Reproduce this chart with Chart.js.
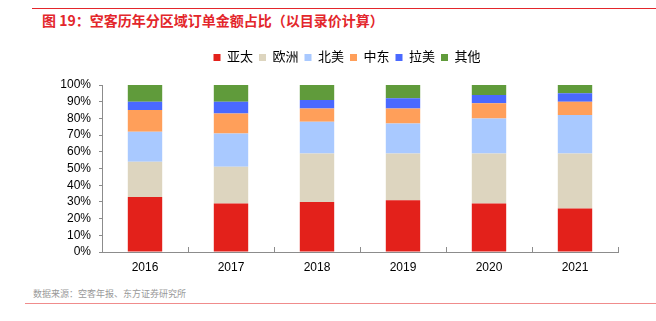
<!DOCTYPE html>
<html>
<head>
<meta charset="utf-8">
<script src="https://cdn.jsdelivr.net/npm/chart.js@4"></script>
<style>
  body { margin: 0; background: #fff; }
  #page { position: relative; width: 656px; height: 321px; overflow: hidden; font-family: "Liberation Sans", "Noto Sans CJK SC", sans-serif; }
  #topLine { position: absolute; left: 32px; top: 8px; width: 624px; height: 1px; background: #e3262b; }
  #title { position: absolute; left: 42px; top: 12px; font-size: 14px; line-height: 16px; font-weight: bold; color: #e3262b; font-family: "Noto Sans CJK SC", sans-serif; }
  #source { position: absolute; left: 33px; top: 288px; font-size: 9px; line-height: 12px; color: #999; font-family: "Noto Sans CJK SC", sans-serif; }
  #bottomLine { position: absolute; left: 25px; top: 303px; width: 631px; height: 1px; background: #f08c8c; }
  #chart { position: absolute; left: 0; top: 40px; }
</style>
</head>
<body>
<div id="page">
  <div id="topLine"></div>
  <div id="title">图 19：空客历年分区域订单金额占比（以目录价计算）</div>
  <canvas id="chart" width="656" height="240"></canvas>
  <div id="source">数据来源：空客年报、东方证券研究所</div>
  <div id="bottomLine"></div>
</div>
<script>
// order share by region, % of list price value
const years = ['2016', '2017', '2018', '2019', '2020', '2021'];
const asiaPacific = [33, 29, 30, 31, 29, 26];
const europe = [21, 22, 29, 28, 30, 33];
const northAmerica = [18, 20, 19, 18, 21, 23];
const middleEast = [13, 12, 8, 9, 9, 8];
const latinAmerica = [5, 7, 5, 6, 5, 5];
const others = [10, 10, 9, 8, 6, 5];

const regionNames = ['亚太', '欧洲', '北美', '中东', '拉美', '其他'];
const yMax = 100;
const yStep = 10;

const seriesList = [asiaPacific, europe, northAmerica, middleEast, latinAmerica, others];
const colors = ['#e3211b', '#ddd5bf', '#a9c9ff', '#ff9f5a', '#4a69ff', '#609b3b'];

const FONT = '"Liberation Sans", "Noto Sans CJK SC", sans-serif';
const AXIS_GREY = '#8c8c8c';

const datasets = seriesList.map((values, i) => ({
    label: regionNames[i],
    data: values,
    backgroundColor: colors[i],
    borderWidth: 0,
    barPercentage: 0.4,
    categoryPercentage: 1.0,
}));

// nudge the legend row right so it sits over the plot like the original
const legendShift = {
    id: 'legendShift',
    afterLayout(chart) {
        chart.legend.left += 38;
        chart.legend.right += 38;
    },
};

const chart = new Chart(document.getElementById('chart'), {
    type: 'bar',
    data: { labels: years, datasets: datasets },
    plugins: [legendShift],
    options: {
        responsive: false,
        animation: false,
        layout: { padding: { left: 0, right: 38, top: 5, bottom: 0 } },
        plugins: {
            tooltip: { enabled: false },
            legend: {
                position: 'top',
                labels: {
                    boxWidth: 7,
                    boxHeight: 7,
                    padding: 6,
                    color: '#000',
                    font: { family: FONT, size: 13 },
                },
            },
        },
        scales: {
            x: {
                stacked: true,
                offset: true,
                grid: { display: true, drawOnChartArea: false, offset: true, tickLength: -5, color: AXIS_GREY, lineWidth: 1 },
                border: { display: true, color: AXIS_GREY, width: 1 },
                ticks: { color: '#000', padding: 13, font: { family: FONT, size: 12 } },
                afterFit: (scale) => { scale.height = 28; },
            },
            y: {
                stacked: true,
                min: 0,
                max: yMax,
                grid: { display: true, drawOnChartArea: false, tickLength: 3, color: AXIS_GREY, lineWidth: 1 },
                border: { display: true, color: AXIS_GREY, width: 1 },
                ticks: {
                    stepSize: yStep,
                    autoSkip: false,
                    color: '#000',
                    padding: 8,
                    font: { family: FONT, size: 12 },
                    callback: (v) => v + '%',
                },
                afterFit: (scale) => { scale.width = 102; },
            },
        },
    },
});

// legend block takes a fixed height so the plot starts where the original does
const origFit = chart.legend.fit;
chart.legend.fit = function () {
    origFit.call(this);
    this.height = 40;
};
chart.update();
</script>
</body>
</html>
